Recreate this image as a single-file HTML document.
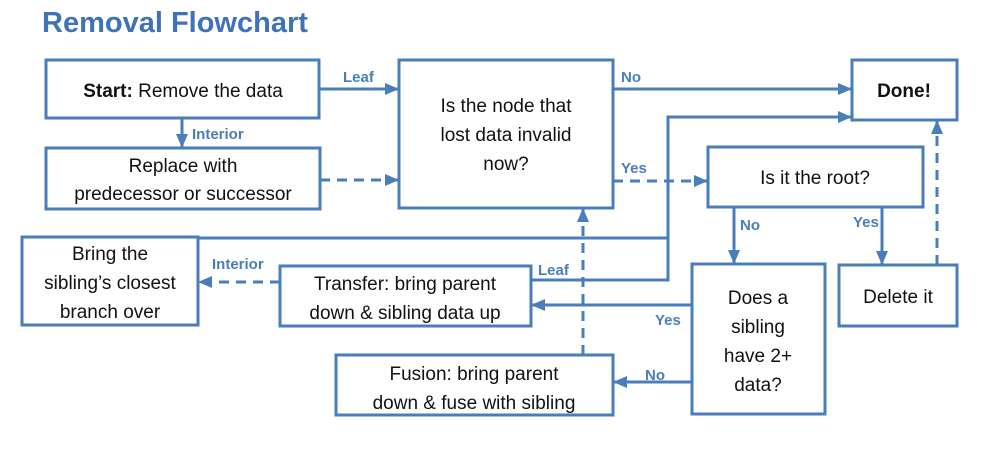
<!DOCTYPE html>
<html><head><meta charset="utf-8"><style>
body{margin:0;background:#fff;width:1001px;height:454px;overflow:hidden}
</style></head><body>
<svg width="1001" height="454" viewBox="0 0 1001 454" xmlns="http://www.w3.org/2000/svg" font-family="Liberation Sans, sans-serif">
<defs><marker id="a" markerWidth="14" markerHeight="12" refX="13" refY="6" orient="auto" markerUnits="userSpaceOnUse"><path d="M0,0 L14,6 L0,12 z" fill="#4a7ebb"/></marker></defs>
<text x="42" y="32" font-size="29" font-weight="bold" fill="#3f72b8">Removal Flowchart</text>
<g fill="#fff" stroke="#4a7ebb" stroke-width="3">
<rect x="46" y="60" width="273" height="58"/>
<rect x="46" y="148" width="274" height="61"/>
<rect x="399" y="60" width="214" height="148"/>
<rect x="852" y="60" width="105" height="60"/>
<rect x="708" y="147" width="215" height="60"/>
<rect x="839" y="265" width="118" height="61"/>
<rect x="692" y="264" width="133" height="150"/>
<rect x="22" y="237" width="176" height="88"/>
<rect x="280" y="266" width="251" height="60"/>
<rect x="336" y="355" width="277" height="60"/>
</g>
<g fill="none" stroke="#4a7ebb" stroke-width="3">
<path d="M319 89 H398" marker-end="url(#a)"/>
<path d="M182 118 V147" marker-end="url(#a)"/>
<path d="M320 180 H398" stroke-dasharray="10 7" marker-end="url(#a)"/>
<path d="M613 89 H851" marker-end="url(#a)"/>
<path d="M613 181 H707" stroke-dasharray="10 7" marker-end="url(#a)"/>
<path d="M198 238 H668 V117 H851" marker-end="url(#a)"/>
<path d="M531 280 H668 V238"/>
<path d="M734 207 V263" marker-end="url(#a)"/>
<path d="M882 207 V264" marker-end="url(#a)"/>
<path d="M937 265 V121" stroke-dasharray="10 7" marker-end="url(#a)"/>
<path d="M692 305 H532" marker-end="url(#a)"/>
<path d="M692 382 H614" marker-end="url(#a)"/>
<path d="M583 355 V209" stroke-dasharray="10 7" marker-end="url(#a)"/>
<path d="M280 282 H199" stroke-dasharray="10 7" marker-end="url(#a)"/>
</g>
<g font-size="15" font-weight="bold" fill="#4a7ebb">
<text x="343" y="82">Leaf</text>
<text x="192" y="139">Interior</text>
<text x="621" y="82">No</text>
<text x="621" y="173">Yes</text>
<text x="740" y="230">No</text>
<text x="853" y="227">Yes</text>
<text x="212" y="269">Interior</text>
<text x="538" y="275">Leaf</text>
<text x="655" y="325">Yes</text>
<text x="645" y="380">No</text>
</g>
<g font-size="19" fill="#111" text-anchor="middle">
<text x="183" y="97"><tspan font-weight="bold">Start:</tspan> Remove the data</text>
<text x="183" y="172">Replace with</text>
<text x="183" y="200">predecessor or successor</text>
<text x="506" y="112">Is the node that</text>
<text x="506" y="141">lost data invalid</text>
<text x="506" y="170">now?</text>
<text x="904" y="97" font-weight="bold">Done!</text>
<text x="815" y="184">Is it the root?</text>
<text x="898" y="303">Delete it</text>
<text x="758" y="304">Does a</text>
<text x="758" y="333">sibling</text>
<text x="758" y="362">have 2+</text>
<text x="758" y="391">data?</text>
<text x="110" y="260">Bring the</text>
<text x="110" y="289">sibling’s closest</text>
<text x="110" y="318">branch over</text>
<text x="405" y="290">Transfer: bring parent</text>
<text x="405" y="319">down &amp; sibling data up</text>
<text x="474" y="380">Fusion: bring parent</text>
<text x="474" y="409">down &amp; fuse with sibling</text>
</g>
</svg>
</body></html>
